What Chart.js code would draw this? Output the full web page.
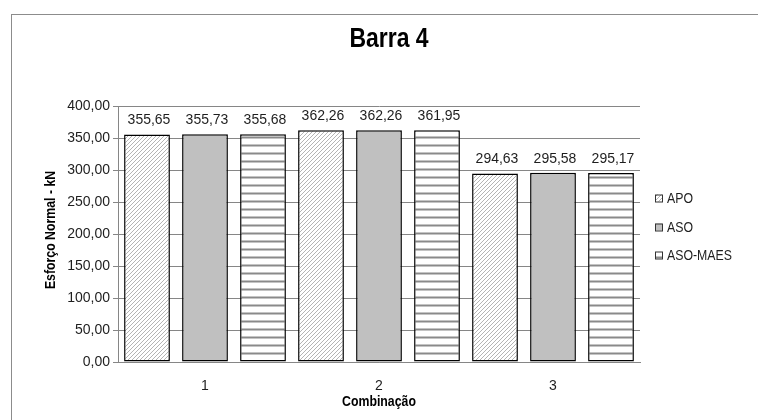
<!DOCTYPE html>
<html lang="pt">
<head>
  <meta charset="UTF-8" />
  <title>Barra 4</title>
  <script src="https://cdn.jsdelivr.net/npm/chart.js"></script>
  <style>
    body {
      margin: 0;
      background: #fff;
    }
    #wrap {
      position: relative;
      width: 758px;
      height: 420px;
    }
  </style>
</head>
<body>
  <div id="wrap"><canvas id="chart" width="758" height="420"></canvas></div>

  <script>
    const combinacoes = ['1', '2', '3'];
    const seriesNames = ['APO', 'ASO', 'ASO-MAES'];
    const apo = [355.65, 362.26, 294.63];
    const aso = [355.73, 362.26, 295.58];
    const asoMaes = [355.68, 361.95, 295.17];

    const family = "'Liberation Sans', Arial, sans-serif";

    function makePattern(kind) {
      const c = document.createElement('canvas');
      const ctx = c.getContext('2d');
      if (kind === 'diag') {
        c.width = 4; c.height = 4;
        ctx.fillStyle = '#fff';
        ctx.fillRect(0, 0, 4, 4);
        ctx.strokeStyle = '#b4b4b4';
        ctx.lineWidth = 1;
        ctx.beginPath();
        ctx.moveTo(-1, 5); ctx.lineTo(5, -1);
        ctx.moveTo(-1, 1); ctx.lineTo(1, -1);
        ctx.moveTo(3, 5); ctx.lineTo(5, 3);
        ctx.stroke();
      } else {
        c.width = 8; c.height = 8;
        ctx.fillStyle = '#fff';
        ctx.fillRect(0, 0, 8, 8);
        ctx.fillStyle = '#c4c4c4';
        ctx.fillRect(0, 0, 8, 3);
        ctx.fillStyle = '#8a8a8a';
        ctx.fillRect(0, 1, 8, 1);
      }
      return ctx.createPattern(c, 'repeat');
    }

    const fills = [makePattern('diag'), '#c0c0c0', makePattern('horiz')];
    const fmt = v => v.toFixed(2).replace('.', ',');

    // condensed text: no narrow font installed, so squeeze horizontally
    function narrowText(ctx, text, x, y, font, align, rot) {
      ctx.save();
      ctx.translate(x, y);
      if (rot) ctx.rotate(rot);
      ctx.scale(0.82, 1);
      ctx.font = font;
      ctx.textAlign = align;
      ctx.textBaseline = 'middle';
      ctx.fillText(text, 0, 0);
      ctx.restore();
    }

    const extras = {
      id: 'extras',
      beforeDraw(chart) {
        const ctx = chart.ctx;
        ctx.save();
        ctx.strokeStyle = '#8c8c8c';
        ctx.lineWidth = 1;
        ctx.strokeRect(11.5, 14.5, 800, 500);
        ctx.restore();
      },
      afterDatasetsDraw(chart) {
        const ctx = chart.ctx;
        const area = chart.chartArea;
        ctx.save();
        ctx.font = '14px ' + family;
        ctx.fillStyle = '#1e1e1e';
        ctx.textAlign = 'center';
        ctx.textBaseline = 'middle';
        chart.data.datasets.forEach((ds, i) => {
          chart.getDatasetMeta(i).data.forEach((bar, j) => {
            ctx.fillText(fmt(ds.data[j]), bar.x + 2, bar.y - 14);
          });
        });

        ctx.fillStyle = '#000';
        narrowText(ctx, 'Barra 4', 389, 39, 'bold 28px ' + family, 'center');
        narrowText(ctx, 'Combinação', (area.left + area.right) / 2, 402, 'bold 15px ' + family, 'center');
        narrowText(ctx, 'Esforço Normal - kN', 51, (area.top + area.bottom) / 2 - 4, 'bold 15px ' + family, 'center', -Math.PI / 2);

        // legend
        const ys = [198, 227, 255];
        chart.data.datasets.forEach((ds, i) => {
          ctx.fillStyle = ds.backgroundColor;
          ctx.fillRect(655, ys[i] - 3.5, 7, 7);
          ctx.strokeStyle = '#333';
          ctx.lineWidth = 1;
          ctx.strokeRect(655.5, ys[i] - 3, 7, 7);
          ctx.fillStyle = '#1e1e1e';
          narrowText(ctx, ds.label, 667, ys[i] + 1, '15px ' + family, 'left');
        });
        ctx.restore();
      }
    };

    new Chart(document.getElementById('chart'), {
      type: 'bar',
      data: {
        labels: combinacoes,
        datasets: [
          { label: seriesNames[0], data: apo, backgroundColor: fills[0] },
          { label: seriesNames[1], data: aso, backgroundColor: fills[1] },
          { label: seriesNames[2], data: asoMaes, backgroundColor: fills[2] }
        ].map(d => Object.assign(d, { borderColor: '#000', borderWidth: 1.5, borderSkipped: false }))
      },
      options: {
        responsive: false,
        animation: false,
        devicePixelRatio: 1,
        layout: { padding: { left: 20, right: 0, top: 106, bottom: 10 } },
        datasets: { bar: { categoryPercentage: 1, barPercentage: 0.79 } },
        plugins: {
          legend: { display: false },
          tooltip: { enabled: false },
          title: { display: false }
        },
        scales: {
          x: {
            grid: { display: false, drawTicks: false },
            border: { display: true, color: '#868686' },
            ticks: { color: '#1e1e1e', padding: 16, font: { family: family, size: 14 } },
            afterFit: s => { s.height = 48; }
          },
          y: {
            min: 0, max: 400,
            ticks: { stepSize: 50, color: '#1e1e1e', padding: 3, font: { family: family, size: 14 }, callback: v => fmt(v) },
            grid: { color: '#868686', lineWidth: 1, drawTicks: true, tickLength: 5 },
            border: { display: true, color: '#868686' },
            afterFit: s => { s.width = 98; }
          },
          pad: {
            position: 'right',
            display: true,
            grid: { display: false },
            border: { display: false },
            ticks: { display: false },
            afterFit: s => { s.width = 118; }
          }
        }
      },
      plugins: [extras]
    });
  </script>
</body>
</html>
